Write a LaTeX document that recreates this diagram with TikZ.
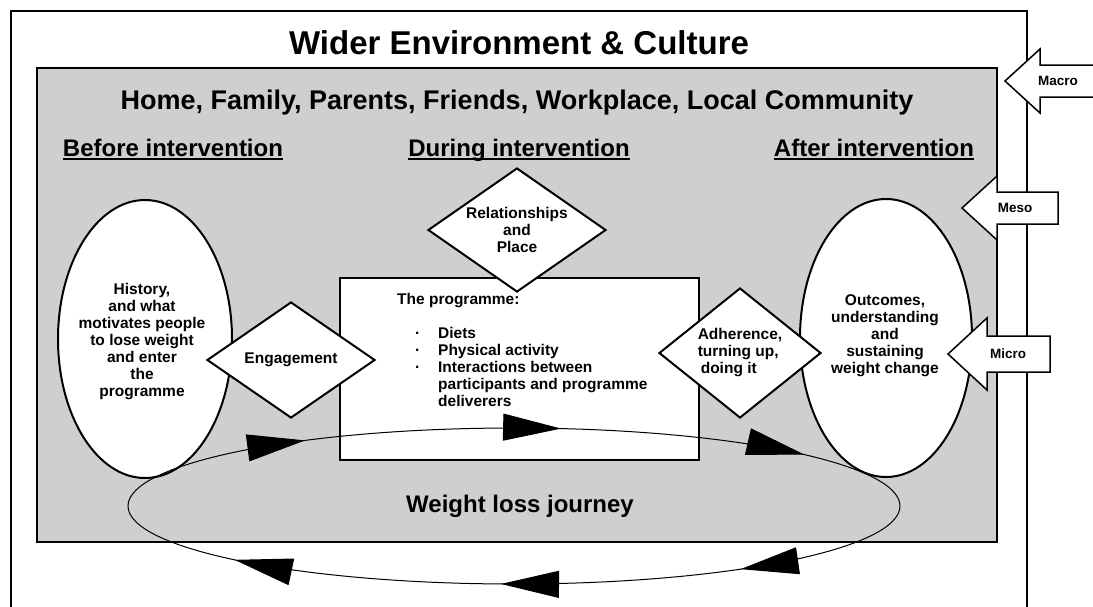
\documentclass[tikz,border=0pt]{standalone}
\usepackage{fontspec}
\setmainfont{Liberation Sans}
\usetikzlibrary{shapes.geometric,arrows.meta,decorations.markings}
\definecolor{mygrey}{RGB}{207,207,207}

\begin{document}
\begin{tikzpicture}[x=1pt,y=-1pt,
    txt/.style={font=\fontsize{15.5}{17}\selectfont\bfseries, align=center},
    bubble/.style={ellipse, draw, line width=2pt, fill=white},
    decision/.style={diamond, draw, line width=2pt, fill=white, txt, inner sep=1pt},
    heading/.style={font=\fontsize{24}{28}\selectfont\bfseries, anchor=base, inner sep=0pt},
    level/.style={draw, line width=1.5pt, fill=white, line join=miter},
    levtxt/.style={font=\fontsize{13.5}{16}\selectfont\bfseries, inner sep=0pt},
    bigarrow/.style={-{Triangle[length=58pt,width=27pt]}}]
    \useasboundingbox (0,0) rectangle (1093,606);
    % frames
    \draw[line width=2.5pt] (11,620) -- (11,11) -- (1027,11) -- (1027,620);
    \draw[line width=2.5pt, fill=mygrey] (37,68) rectangle (997,542);
    \node[font=\fontsize{33}{38}\selectfont\bfseries, anchor=base, inner sep=0pt] (wider) at (519,54) {Wider Environment \& Culture};
    \node[font=\fontsize{27}{32}\selectfont\bfseries, anchor=base, inner sep=0pt] (home) at (517,109.5) {Home, Family, Parents, Friends, Workplace, Local Community};
    \node[heading] (before) at (173,156.5) {Before intervention};
    \node[heading] (during) at (519,156.5) {During intervention};
    \node[heading] (after) at (874,156.5) {After intervention};
    \foreach \hd in {before,during,after}
        \draw[line width=2pt] ([yshift=-2.5pt]\hd.base west) -- ([yshift=-2.5pt]\hd.base east);
    % the programme
    \node[draw, line width=2.5pt, fill=white, minimum width=359pt, minimum height=182pt] (prog) at (519.5,369) {};
    \node[txt, align=left, anchor=north west, inner sep=0pt] (progtxt) at (397,292) {\renewcommand{\arraystretch}{1}%
        \begin{tabular}{@{}p{41pt}@{}l@{}}
        \multicolumn{2}{@{}l@{}}{The programme:}\\
        & \\
        \hspace*{18pt}·& Diets\\
        \hspace*{18pt}·& Physical activity\\
        \hspace*{18pt}·& Interactions between\\
        & participants and programme\\
        & deliverers
        \end{tabular}};
    % before and after
    \node[bubble, minimum width=174pt, minimum height=278pt] (hist) at (145,339) {};
    \node[txt] (histtxt) at (142,342) {History,\\and what\\motivates people\\to lose weight\\and enter\\the\\programme};
    \node[bubble, minimum width=172pt, minimum height=278pt] (outc) at (886,338) {};
    \node[txt] (outctxt) at (885,336) {Outcomes,\\understanding\\and\\sustaining\\weight change};
    % diamonds
    \node[decision, shape aspect=1.45, minimum width=168pt, minimum height=116pt] (eng) at (291,360) {Engagement};
    \node[decision, shape aspect=1.43, minimum width=178pt, minimum height=124pt] (rel) at (517,230) {Relationships\\and\\Place};
    \node[decision, shape aspect=1.25, minimum width=162pt, minimum height=130pt, align=left] (adh) at (740,353) {Adherence,\\turning up,\\\hspace*{3pt}doing it};
    % journey
    \draw[line width=1pt, postaction={decorate}, decoration={markings,
        mark=at position 0.110 with {\arrow{Triangle[length=58pt,width=27pt]}},
        mark=at position 0.258 with {\arrow{Triangle[length=58pt,width=27pt]}},
        mark=at position 0.423 with {\arrow{Triangle[length=58pt,width=27pt]}},
        mark=at position 0.621 with {\arrow{Triangle[length=58pt,width=27pt]}},
        mark=at position 0.779 with {\arrow{Triangle[length=58pt,width=27pt]}},
        mark=at position 0.930 with {\arrow{Triangle[length=58pt,width=27pt]}}}]
        (514,506) ellipse [x radius=386, y radius=78];
    \node[heading] (journey) at (520,512) {Weight loss journey};
    % levels
    \draw[level] (1005,81) -- (1040,49) -- (1040,65) -- (1100,65) -- (1100,97) -- (1040,97) -- (1040,113) -- cycle;
    \node[levtxt] (macro) at (1058,81) {Macro};
    \draw[level] (962,208) -- (997,176) -- (997,192) -- (1058,192) -- (1058,224) -- (997,224) -- (997,240) -- cycle;
    \node[levtxt] (meso) at (1015,208) {Meso};
    \draw[level] (948,354) -- (987,318) -- (987,336) -- (1050,336) -- (1050,372) -- (987,372) -- (987,390) -- cycle;
    \node[levtxt] (micro) at (1008,354) {Micro};
\end{tikzpicture}
\end{document}
